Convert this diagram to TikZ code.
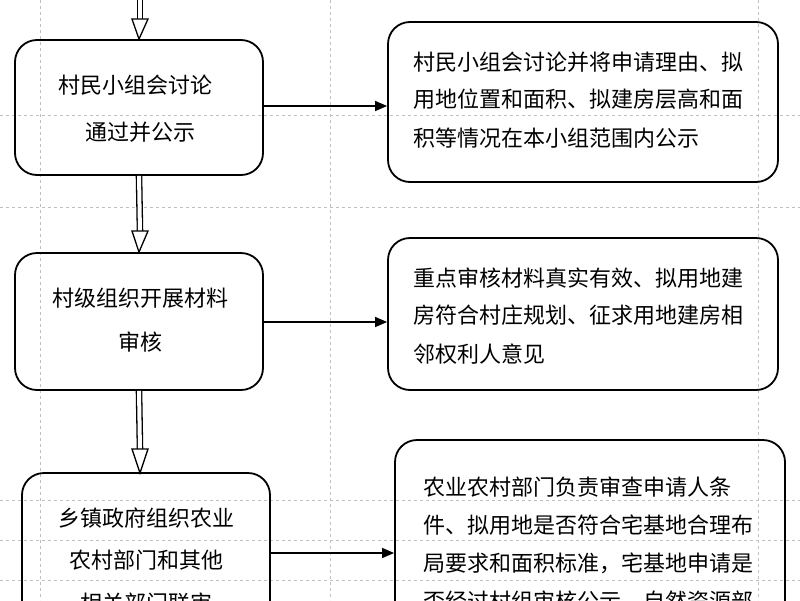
\documentclass[tikz,border=0pt]{standalone}
\usepackage{fontspec}
\setmainfont{Noto Sans CJK SC}
\usetikzlibrary{arrows.meta,calc}
\begin{document}
\begin{tikzpicture}[x=1pt,y=-1pt,
  box/.style={draw,line width=1.8pt,rounded corners=22pt},
  txt/.style={font=\fontsize{22}{22}\selectfont,inner sep=0pt,anchor=west},
  ctxt/.style={font=\fontsize{22}{22}\selectfont,inner sep=0pt},
  grid/.style={draw=black!25,dashed,line width=0.6pt},
  conn/.style={line width=1.4pt,-{Triangle[length=12pt,width=10pt]}},
  dshaft/.style={line width=1.3pt,double,double distance=4pt},
  dhead/.style={line width=1.3pt,fill=white,line join=miter}]
\useasboundingbox (0,0) rectangle (800,600);
\fill[white] (0,0) rectangle (800,600);
\begin{scope}
\clip (0,0) rectangle (800,600);
% background grid
\foreach \x in {40,330,758} \draw[grid] (\x,0) -- (\x,600);
\foreach \y in {115,207,500,540,580} \draw[grid] (0,\y) -- (800,\y);
% left boxes
\node[box,minimum width=248pt,minimum height=135pt] (L1) at (139,107.5) {};
\node[box,minimum width=248pt,minimum height=137pt] (L2) at (139,321.5) {};
\node[box,minimum width=248pt,minimum height=160pt] (L3) at (146,553) {};
% right boxes
\node[box,minimum width=390pt,minimum height=160pt] (R1) at (583,102) {};
\node[box,minimum width=390pt,minimum height=152pt] (R2) at (583,314) {};
\node[box,minimum width=390pt,minimum height=190pt] (R3) at (590,535) {};
% texts
\node[ctxt] (t1a) at (135,85) {村民小组会讨论};
\node[ctxt] (t1b) at (140,132) {通过并公示};
\node[ctxt] (t2a) at (140,298) {村级组织开展材料};
\node[ctxt] (t2b) at (140,342) {审核};
\node[ctxt] (t3a) at (146,518) {乡镇政府组织农业};
\node[ctxt] (t3b) at (146,560) {农村部门和其他};
\node[ctxt] (t3c) at (146,603) {相关部门联审};
\node[txt] (r1a) at (413,62) {村民小组会讨论并将申请理由、拟};
\node[txt] (r1b) at (413,99) {用地位置和面积、拟建房层高和面};
\node[txt] (r1c) at (413,138) {积等情况在本小组范围内公示};
\node[txt] (r2a) at (413,278) {重点审核材料真实有效、拟用地建};
\node[txt] (r2b) at (413,315) {房符合村庄规划、征求用地建房相};
\node[txt] (r2c) at (413,354) {邻权利人意见};
\node[txt] (r3a) at (423,487) {农业农村部门负责审查申请人条};
\node[txt] (r3b) at (423,525) {件、拟用地是否符合宅基地合理布};
\node[txt] (r3c) at (423,563) {局要求和面积标准，宅基地申请是};
\node[txt] (r3d) at (423,601) {否经过村组审核公示，自然资源部};
% horizontal connectors
\draw[conn] (L1.east |- 0,106) -- (R1.west |- 0,106);
\draw[conn] (L2.east |- 0,322) -- (R2.west |- 0,322);
\draw[conn] (L3.east |- 0,553) -- (R3.west |- 0,553);
% double arrows
\coordinate (top) at (140,-2);
\draw[dshaft] (top) -- (140,20);
\draw[dhead] (132,19) -- (148,19) -- (L1.north) -- cycle;
\draw[dshaft] (L1.south) -- (140,232);
\draw[dhead] (132,231) -- (148,231) -- (L2.north) -- cycle;
\draw[dshaft] (L2.south) -- (140,450);
\draw[dhead] (132,449) -- (148,449) -- (140,473) -- cycle;
\end{scope}
\end{tikzpicture}
\end{document}
